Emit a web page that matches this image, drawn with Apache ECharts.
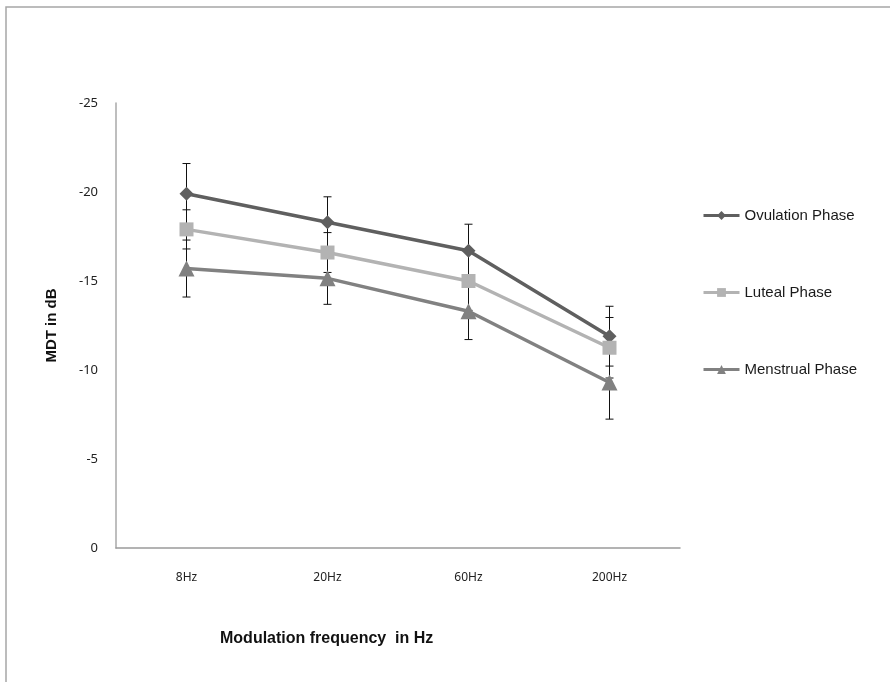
<!DOCTYPE html>
<html>
<head>
<meta charset="utf-8">
<script src="https://cdn.jsdelivr.net/npm/echarts@6/dist/echarts.min.js"></script>
<style>
  html, body { margin: 0; padding: 0; background: #fff; }
  #box { width: 890px; height: 682px; }
</style>
</head>
<body>
<div id="box"></div>
<script>
// chart data
const categories = ['8Hz', '20Hz', '60Hz', '200Hz'];
const ovulation = [-19.9, -18.3, -16.7, -11.9];
const luteal = [-17.9, -16.6, -15.0, -11.25];
const menstrual = [-15.7, -15.15, -13.3, -9.3];
// error bar half widths (dB)
const ovulationErr = [1.7, 1.43, 1.49, 1.68];
const lutealErr = [1.1, 1.12, 1.65, 1.7];
const menstrualErr = [1.6, 1.46, 1.59, 2.06];
const yTicks = [-25, -20, -15, -10, -5, 0];

window.addEventListener('load', function () {
  let box = document.getElementById('box');
  let mychart = echarts.init(box, null, { renderer: 'canvas' });

  function errData(vals, errs) {
    let arr = [];
    for (let i = 0; i < vals.length; i++) {
      arr.push([i, vals[i] - errs[i], vals[i] + errs[i]]);
    }
    return arr;
  }

  function renderErr(params, api) {
    let x = api.value(0);
    let lo = api.coord([x, api.value(1)]);
    let hi = api.coord([x, api.value(2)]);
    let w = 4;
    let st = { stroke: '#111', lineWidth: 1 };
    return {
      type: 'group',
      children: [
        { type: 'line', shape: { x1: lo[0], y1: lo[1], x2: hi[0], y2: hi[1] }, style: st },
        { type: 'line', shape: { x1: lo[0] - w, y1: lo[1], x2: lo[0] + w, y2: lo[1] }, style: st },
        { type: 'line', shape: { x1: hi[0] - w, y1: hi[1], x2: hi[0] + w, y2: hi[1] }, style: st }
      ]
    };
  }

  function errSeries(name, vals, errs) {
    return {
      name: name + ' err',
      type: 'custom',
      renderItem: renderErr,
      data: errData(vals, errs),
      z: 1,
      silent: true
    };
  }

  function lineSeries(name, vals, color, symbol, size) {
    return {
      name: name,
      type: 'line',
      data: vals,
      symbol: symbol,
      symbolSize: size,
      z: 3,
      itemStyle: { color: color },
      lineStyle: { color: color, width: 3.5 }
    };
  }

  let options = {
    backgroundColor: '#fff',
    animation: false,
    grid: { left: 116, right: 210, top: 103, bottom: 134 },
    legend: {
      orient: 'vertical',
      left: 697,
      top: 203,
      itemGap: 62,
      itemWidth: 36,
      itemHeight: 11,
      lineStyle: { width: 3 },
      textStyle: { fontFamily: 'Liberation Sans, Arial', fontSize: 15, color: '#1a1a1a' },
      data: ['Ovulation Phase', 'Luteal Phase', 'Menstrual Phase']
    },
    xAxis: {
      type: 'category',
      data: categories,
      boundaryGap: true,
      axisLine: { lineStyle: { color: '#9a9a9a', width: 1.5 } },
      axisTick: { show: false },
      axisLabel: { margin: 24, fontFamily: 'Noto Sans', fontSize: 12, color: '#222' }
    },
    yAxis: {
      type: 'value',
      min: -25,
      max: 0,
      interval: 5,
      inverse: true,
      name: 'MDT in dB',
      nameLocation: 'middle',
      nameGap: 57,
      nameTextStyle: { fontFamily: 'Liberation Sans, Arial', fontWeight: 'bold', fontSize: 15, color: '#111' },
      splitLine: { show: false },
      axisLine: { show: true, lineStyle: { color: '#a8a8a8', width: 1.5 } },
      axisTick: { show: false },
      axisLabel: {
        margin: 18,
        fontFamily: 'Noto Sans',
        fontSize: 13,
        color: '#222',
        formatter: function (v) { return yTicks.indexOf(v) >= 0 ? String(v) : ''; }
      }
    },
    graphic: [
      {
        type: 'polyline',
        shape: { points: [[6, 682], [6, 7], [890, 7]] },
        style: { stroke: '#a6a6a6', lineWidth: 1.5, fill: null }
      },
      {
        type: 'text',
        left: 220,
        top: 631,
        style: {
          text: 'Modulation frequency  in Hz',
          font: 'bold 16px "Liberation Sans", Arial',
          fill: '#111'
        }
      }
    ],
    series: [
      errSeries('Ovulation Phase', ovulation, ovulationErr),
      errSeries('Luteal Phase', luteal, lutealErr),
      errSeries('Menstrual Phase', menstrual, menstrualErr),
      lineSeries('Ovulation Phase', ovulation, '#5f5f5f', 'diamond', 14),
      lineSeries('Luteal Phase', luteal, '#b3b3b3', 'rect', 14),
      lineSeries('Menstrual Phase', menstrual, '#818181', 'triangle', 16)
    ]
  };

  mychart.setOption(options);
});
</script>
</body>
</html>
